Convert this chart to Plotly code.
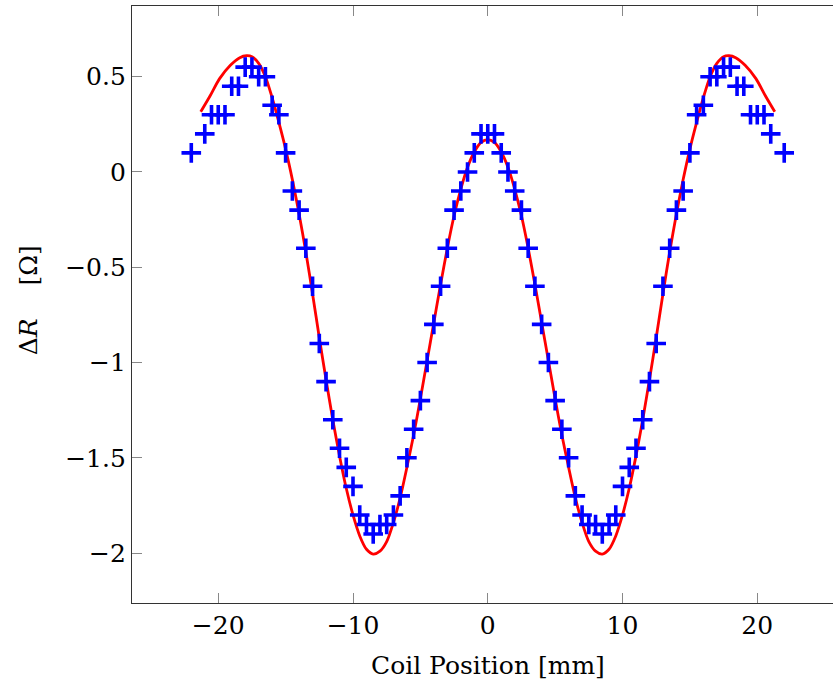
import plotly.graph_objects as go

# Measured data (blue plus markers)
pos_mm = [-22, -21, -20.5, -20, -19.5, -19, -18.5, -18, -17.5, -17, -16.5, -16, -15.5, -15,
          -14.5, -14, -13.5, -13, -12.5, -12, -11.5, -11, -10.5, -10, -9.5, -9, -8.5, -8,
          -7.5, -7, -6.5, -6, -5.5, -5, -4.5, -4, -3.5, -3, -2.5, -2, -1.5, -1, -0.5, 0,
          0.5, 1, 1.5, 2, 2.5, 3, 3.5, 4, 4.5, 5, 5.5, 6, 6.5, 7, 7.5, 8, 8.5, 9, 9.5, 10,
          10.5, 11, 11.5, 12, 12.5, 13, 13.5, 14, 14.5, 15, 15.5, 16, 16.5, 17, 17.5, 18,
          18.5, 19, 19.5, 20, 20.5, 21, 22]
delta_r = [0.1, 0.2, 0.3, 0.3, 0.3, 0.45, 0.45, 0.55, 0.55, 0.5, 0.5, 0.35, 0.3, 0.1,
           -0.1, -0.2, -0.4, -0.6, -0.9, -1.1, -1.3, -1.45, -1.55, -1.65, -1.8, -1.85, -1.9, -1.85,
           -1.85, -1.8, -1.7, -1.5, -1.35, -1.2, -1.0, -0.8, -0.6, -0.4, -0.2, -0.1, 0.0, 0.1, 0.2, 0.2,
           0.2, 0.1, 0.0, -0.1, -0.2, -0.4, -0.6, -0.8, -1.0, -1.2, -1.35, -1.5, -1.7, -1.8, -1.85, -1.85, -1.9, -1.85, -1.8, -1.65,
           -1.55, -1.45, -1.3, -1.1, -0.9, -0.6, -0.4, -0.2, -0.1, 0.1, 0.3, 0.35, 0.5, 0.5, 0.55, 0.55,
           0.45, 0.45, 0.3, 0.3, 0.3, 0.2, 0.1]

# Fitted curve (red)
fit_x = [-21.3, -20.6, -19.9, -19.1, -18.4, -17.9, -17.5, -17, -16.5, -16, -15.5, -15, -14.5, -14,
         -13.5, -13, -12.5, -12, -11.5, -11, -10.5, -10, -9.5, -9, -8.5, -8, -7.5, -7, -6.5, -6,
         -5.5, -5, -4.5, -4, -3.5, -3, -2.5, -2, -1.5, -1, -0.5, 0,
         0.5, 1, 1.5, 2, 2.5, 3, 3.5, 4, 4.5, 5, 5.5, 6, 6.5, 7, 7.5, 8, 8.5, 9, 9.5, 10,
         10.5, 11, 11.5, 12, 12.5, 13, 13.5, 14, 14.5, 15, 15.5, 16, 16.5, 17, 17.5, 17.9,
         18.4, 19.1, 19.9, 20.6, 21.3]
fit_y = [0.316, 0.40, 0.49, 0.56, 0.60, 0.61, 0.605, 0.57, 0.50, 0.39, 0.26, 0.12, -0.04, -0.22,
         -0.42, -0.64, -0.87, -1.09, -1.30, -1.49, -1.66, -1.80, -1.91, -1.98, -2.005, -1.99, -1.94, -1.84, -1.71, -1.55,
         -1.38, -1.19, -0.99, -0.79, -0.59, -0.40, -0.23, -0.09, 0.025, 0.105, 0.155, 0.17,
         0.155, 0.105, 0.025, -0.09, -0.23, -0.40, -0.59, -0.79, -0.99, -1.19, -1.38, -1.55, -1.71, -1.84, -1.94, -1.99, -2.005, -1.98, -1.91, -1.80,
         -1.66, -1.49, -1.30, -1.09, -0.87, -0.64, -0.42, -0.22, -0.04, 0.12, 0.26, 0.39, 0.50, 0.57, 0.605, 0.61,
         0.60, 0.56, 0.49, 0.40, 0.316]

x_ticks = [-20, -10, 0, 10, 20]
x_tick_text = ["−20", "−10", "0", "10", "20"]
y_ticks = [0.5, 0, -0.5, -1, -1.5, -2]
y_tick_text = ["0.5", "0", "−0.5", "−1", "−1.5", "−2"]

FONT = "DejaVu Serif"

fig = go.Figure()
fig.add_trace(go.Scatter(
    x=fit_x, y=fit_y, mode="lines",
    line=dict(color="#ff0000", width=2.8, shape="spline", smoothing=0.8),
    showlegend=False, hoverinfo="skip"))
fig.add_trace(go.Scatter(
    x=pos_mm, y=delta_r, mode="markers",
    marker=dict(symbol="cross-thin", size=14, color="#0000ff",
                line=dict(color="#0000ff", width=3.6)),
    showlegend=False))

fig.update_layout(
    width=833, height=688,
    margin=dict(l=132, r=0, t=6, b=85),
    paper_bgcolor="white", plot_bgcolor="white",
    font=dict(family=FONT, size=25, color="black"),
    xaxis=dict(range=[-26.4, 25.62], tickvals=x_ticks, ticktext=x_tick_text,
               ticks="inside", ticklen=10, tickcolor="#888888", tickwidth=1,
               showline=True, linecolor="#333333", linewidth=1.3, mirror="ticks",
               showgrid=False, zeroline=False,
               tickfont=dict(family=FONT, size=25)),
    yaxis=dict(range=[-2.262, 0.871], tickvals=y_ticks, ticktext=y_tick_text,
               ticks="inside", ticklen=10, tickcolor="#888888", tickwidth=1,
               showline=True, linecolor="#333333", linewidth=1.3, mirror=False,
               showgrid=False, zeroline=False,
               tickfont=dict(family=FONT, size=25)),
    annotations=[
        dict(text="Coil Position [mm]", x=0, xref="x", y=-0.104, yref="paper",
             xanchor="center", yanchor="middle", showarrow=False,
             font=dict(family=FONT, size=25)),
        dict(text="Δ<i>R</i>\u2003 [Ω]", x=-0.148, xref="paper", y=0.5075, yref="paper",
             xanchor="center", yanchor="middle", textangle=-90, showarrow=False,
             font=dict(family=FONT, size=25)),
    ],
)

fig.write_html("out.html")
